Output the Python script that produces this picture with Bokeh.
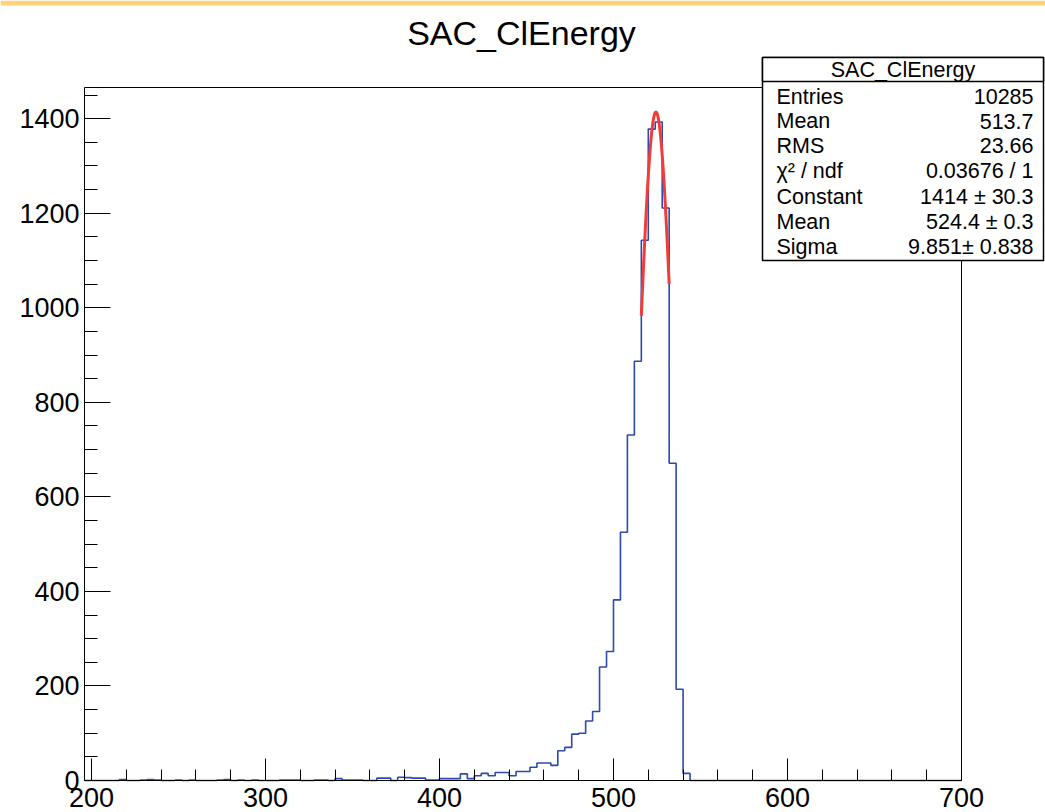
from bokeh.plotting import figure
from bokeh.models import (Range1d, SingleIntervalTicker, FixedTicker, LinearAxis,
                          Label, BoxAnnotation)
from bokeh.embed import file_html
from bokeh.resources import INLINE
import numpy as np

# ---- histogram data: 4-unit bins starting at 196 ----
first_edge = 196
bin_width = 4
n_bins = 126
counts_head = [
    0, 0, 0, 0, 0, 2, 0, 0, 1, 2,          # 196 - 236
    1, 0, 0, 1, 0, 1, 0, 0, 0, 1,          # 236 - 276
    2, 0, 1, 0, 1, 0, 0, 0, 1, 1,          # 276 - 316
    1, 0, 0, 1, 1, 0, 4, 1, 1, 1,          # 316 - 356
    0, 0, 5, 5, 0, 7, 6, 5, 5, 1,          # 356 - 396
    1, 4, 4, 4, 14, 4, 10, 15, 10, 17,     # 396 - 436
    17, 10, 19, 19, 28, 37, 37, 32, 63, 70,  # 436 - 476
    98, 100, 126, 146, 240, 273, 382, 525, 731, 887,  # 476 - 516
    1143, 1378, 1393, 1211, 671, 193, 15,  # 516 - 544
]
counts = counts_head + [0] * (n_bins - len(counts_head))

# ---- gaussian fit parameters ----
fit_constant = 1414.0
fit_mean = 524.4
fit_sigma = 9.851
fit_range = (516.0, 532.0)

# ---- axes ----
x_lo, x_hi = 196, 700
y_lo, y_hi = 0, 1466
x_major, x_minor_per_major = 100, 5
y_major, y_minor_per_major = 200, 4

# ---- statistics box ----
title_text = "SAC_ClEnergy"
stats_title = "SAC_ClEnergy"
stats_names = ["Entries", "Mean", "RMS", "\u03c7\u00b2 / ndf", "Constant", "Mean", "Sigma"]
stats_values = ["10285", "513.7", "23.66", "0.03676 / 1", "1414 \u00b1 30.3",
                "524.4 \u00b1 0.3", "9.851\u00b1 0.838"]

FONT = "Liberation Sans"
W, H = 1045, 812
# pixel position of the histogram frame on the canvas
PX_L, PX_R, PX_T, PX_B = 84, 961, 87, 780

# the plotting area spans the whole canvas; ranges are widened so that
# [x_lo, x_hi] x [y_lo, y_hi] lands on the frame pixels above
kx = (PX_R - PX_L) / (x_hi - x_lo)
ky = (PX_B - PX_T) / (y_hi - y_lo)
rx0 = x_lo - PX_L / kx
rx1 = rx0 + W / kx
ry0 = y_lo - (H - PX_B) / ky
ry1 = ry0 + H / ky


def sx(cx):
    return cx


def sy(cy):
    return H - cy


p = figure(width=W, height=H, output_backend="svg", toolbar_location=None,
           x_range=Range1d(rx0, rx1), y_range=Range1d(ry0, ry1),
           min_border=0, title=None)
p.grid.visible = False
p.background_fill_color = "white"
p.border_fill_color = "white"
p.outline_line_color = None

# y axis on the left edge of the frame
ya = p.yaxis[0]
ya.fixed_location = x_lo
ya.bounds = (y_lo, y_hi)
ya.ticker = SingleIntervalTicker(interval=y_major, num_minor_ticks=y_minor_per_major)
ya.major_tick_in = 26
ya.major_tick_out = 0
ya.minor_tick_in = 13
ya.minor_tick_out = 0
ya.major_label_text_font = FONT
ya.major_label_text_font_size = "27px"
ya.major_label_text_color = "black"
ya.major_label_standoff = 5
ya.axis_line_color = "black"
ya.major_tick_line_color = "black"
ya.minor_tick_line_color = "black"

# x axis on the bottom edge of the frame
xa = p.xaxis[0]
xa.fixed_location = y_lo
xa.bounds = (x_lo, x_hi)
xa.ticker = SingleIntervalTicker(interval=x_major, num_minor_ticks=x_minor_per_major)
xa.major_tick_in = 22
xa.major_tick_out = 0
xa.minor_tick_in = 11
xa.minor_tick_out = 0
xa.major_label_text_font = FONT
xa.major_label_text_font_size = "27px"
xa.major_label_text_color = "black"
xa.major_label_standoff = 7
xa.axis_line_color = "black"
xa.major_tick_line_color = "black"
xa.minor_tick_line_color = "black"

# plain top and right edges of the frame
for side, loc, bnds in (("above", y_hi, (x_lo, x_hi)), ("right", x_hi, (y_lo, y_hi))):
    edge = LinearAxis(fixed_location=loc, bounds=bnds, ticker=FixedTicker(ticks=[]),
                      major_label_text_font_size="0px", major_tick_in=0,
                      major_tick_out=0, minor_tick_in=0, minor_tick_out=0,
                      axis_line_color="black")
    p.add_layout(edge, side)

# histogram outline
edges = first_edge + bin_width * np.arange(n_bins + 1)
hx, hy = [edges[0]], [0]
for i, c in enumerate(counts):
    hx += [edges[i], edges[i + 1]]
    hy += [c, c]
hx.append(edges[-1])
hy.append(0)
p.line(hx, hy, line_color="#2c4aae", line_width=1.6)

# gaussian fit curve
xf = np.linspace(fit_range[0], fit_range[1], 100)
yf = fit_constant * np.exp(-0.5 * ((xf - fit_mean) / fit_sigma) ** 2)
p.line(xf, yf, line_color="#f23b3b", line_width=3)

# top banner strip
p.add_layout(BoxAnnotation(left=sx(0), right=sx(W), top=sy(0), bottom=sy(5),
                           left_units="screen", right_units="screen",
                           top_units="screen", bottom_units="screen",
                           fill_color="#ffd47c", fill_alpha=1, line_alpha=0))

# title
p.add_layout(Label(x=sx(521), y=sy(32), x_units="screen", y_units="screen",
                   text=title_text, text_align="center", text_baseline="middle",
                   text_font=FONT, text_font_size="34px", text_color="black"))

# statistics box
box_l, box_r, box_t, box_b, head_b = 762, 1043, 57, 260, 81
for top_edge, bottom_edge in ((box_t, box_b), (box_t, head_b)):
    p.add_layout(BoxAnnotation(left=sx(box_l), right=sx(box_r),
                               top=sy(top_edge), bottom=sy(bottom_edge),
                               left_units="screen", right_units="screen",
                               top_units="screen", bottom_units="screen",
                               fill_color="white", fill_alpha=1,
                               line_color="black", line_width=1.5, line_alpha=1))
p.add_layout(Label(x=sx((box_l + box_r) / 2), y=sy(69), x_units="screen", y_units="screen",
                   text=stats_title, text_align="center", text_baseline="middle",
                   text_font=FONT, text_font_size="21.5px", text_color="black"))
row_y = [96, 120.5, 145, 170, 196, 221, 246]
for name, val, cy in zip(stats_names, stats_values, row_y):
    p.add_layout(Label(x=sx(776), y=sy(cy), x_units="screen", y_units="screen",
                       text=name, text_align="left", text_baseline="middle",
                       text_font=FONT, text_font_size="21.5px", text_color="black"))
    p.add_layout(Label(x=sx(1033), y=sy(cy), x_units="screen", y_units="screen",
                       text=val, text_align="right", text_baseline="middle",
                       text_font=FONT, text_font_size="21.5px", text_color="black"))

open("out.html", "w").write(file_html(p, INLINE))
